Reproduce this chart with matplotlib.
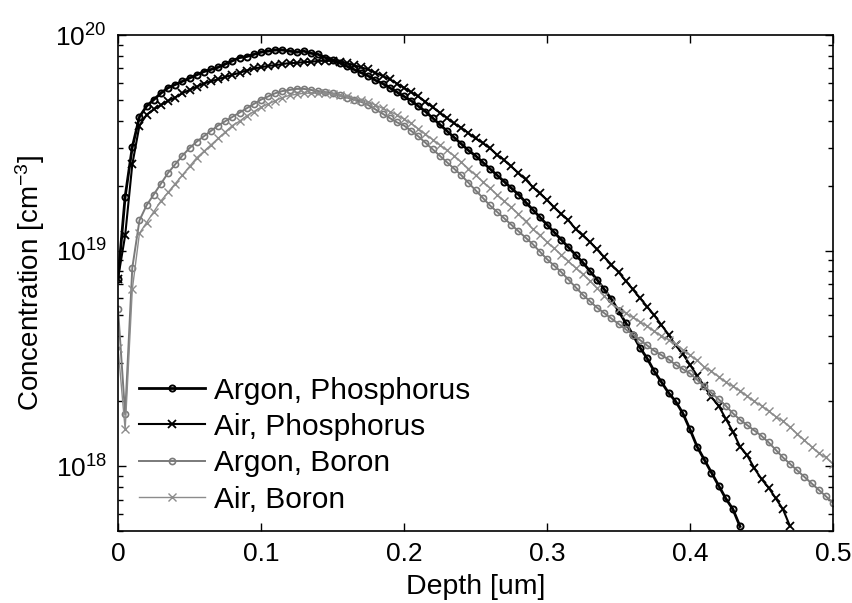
import numpy as np
import matplotlib
matplotlib.use("Agg")
import matplotlib.pyplot as plt

plt.rcParams['font.family'] = ['Liberation Sans', 'DejaVu Sans']
plt.rcParams['mathtext.fontset'] = 'custom'
plt.rcParams['mathtext.rm'] = 'Liberation Sans'
plt.rcParams['mathtext.it'] = 'Liberation Sans:italic'

# depth grid (um), one sample every 0.005 um
step = 0.005

# log10 of concentration [cm^-3]
argon_p = [18.87, 19.25, 19.48, 19.62, 19.67, 19.70, 19.73, 19.755, 19.77, 19.785,
           19.80, 19.815, 19.83, 19.84, 19.85, 19.865, 19.88, 19.895, 19.90, 19.91,
           19.92, 19.925, 19.93, 19.93, 19.925, 19.92, 19.925, 19.915, 19.91, 19.895,
           19.885, 19.87, 19.855, 19.84, 19.825, 19.81, 19.79, 19.775, 19.755, 19.735,
           19.715, 19.695, 19.67, 19.645, 19.615, 19.585, 19.555, 19.525, 19.495, 19.465,
           19.44, 19.41, 19.38, 19.35, 19.32, 19.29, 19.26, 19.225, 19.19, 19.155,
           19.12, 19.085, 19.05, 19.015, 18.98, 18.945, 18.905, 18.865, 18.82, 18.775,
           18.72, 18.665, 18.61, 18.55, 18.50, 18.44, 18.39, 18.34, 18.30, 18.245,
           18.17, 18.09, 18.03, 17.97, 17.91, 17.85, 17.80, 17.72]

air_p = [18.87, 19.07, 19.40, 19.58, 19.63, 19.655, 19.675, 19.695, 19.71, 19.73,
         19.745, 19.76, 19.775, 19.785, 19.795, 19.805, 19.815, 19.825, 19.835, 19.845,
         19.85, 19.857, 19.86, 19.865, 19.87, 19.87, 19.875, 19.875, 19.88, 19.88,
         19.88, 19.875, 19.87, 19.86, 19.85, 19.84, 19.825, 19.81, 19.795, 19.775,
         19.755, 19.735, 19.715, 19.69, 19.665, 19.64, 19.615, 19.59, 19.57, 19.545,
         19.52, 19.50, 19.475, 19.445, 19.42, 19.39, 19.36, 19.33, 19.295, 19.265,
         19.235, 19.20, 19.17, 19.14, 19.10, 19.07, 19.04, 19.005, 18.97, 18.935,
         18.90, 18.86, 18.82, 18.78, 18.74, 18.70, 18.655, 18.61, 18.56, 18.52,
         18.47, 18.42, 18.37, 18.32, 18.28, 18.22, 18.16, 18.09, 18.05, 17.99,
         17.94, 17.90, 17.85, 17.80, 17.72]

argon_b = [18.73, 18.24, 18.92, 19.14, 19.21, 19.26, 19.31, 19.36, 19.40, 19.44,
           19.475, 19.505, 19.53, 19.555, 19.58, 19.60, 19.62, 19.64, 19.66, 19.68,
           19.70, 19.715, 19.73, 19.74, 19.745, 19.75, 19.75, 19.745, 19.74, 19.735,
           19.73, 19.72, 19.71, 19.70, 19.69, 19.675, 19.655, 19.635, 19.615, 19.595,
           19.58, 19.555, 19.53, 19.50, 19.47, 19.44, 19.41, 19.38, 19.35, 19.315,
           19.28, 19.245, 19.21, 19.18, 19.15, 19.12, 19.09, 19.06, 19.03, 18.995,
           18.96, 18.93, 18.90, 18.865, 18.83, 18.795, 18.765, 18.735, 18.71, 18.685,
           18.66, 18.635, 18.61, 18.585, 18.56, 18.535, 18.515, 18.495, 18.47, 18.45,
           18.43, 18.40, 18.37, 18.34, 18.31, 18.28, 18.245, 18.215, 18.19, 18.165,
           18.14, 18.11, 18.075, 18.04, 18.01, 17.98, 17.95, 17.92, 17.89, 17.86,
           17.83]

air_b = [18.55, 18.17, 18.82, 19.08, 19.13, 19.18, 19.23, 19.27, 19.31, 19.35,
         19.39, 19.43, 19.46, 19.49, 19.52, 19.55, 19.58, 19.60, 19.625, 19.645,
         19.665, 19.68, 19.695, 19.71, 19.72, 19.725, 19.73, 19.73, 19.73, 19.73,
         19.725, 19.72, 19.715, 19.705, 19.70, 19.69, 19.675, 19.66, 19.645, 19.63,
         19.61, 19.59, 19.565, 19.54, 19.515, 19.49, 19.465, 19.44, 19.41, 19.38,
         19.35, 19.32, 19.29, 19.26, 19.23, 19.20, 19.17, 19.135, 19.10, 19.07,
         19.04, 19.01, 18.98, 18.95, 18.92, 18.89, 18.86, 18.825, 18.79, 18.755,
         18.73, 18.71, 18.69, 18.67, 18.65, 18.625, 18.605, 18.585, 18.565, 18.54,
         18.515, 18.49, 18.46, 18.44, 18.415, 18.39, 18.37, 18.35, 18.325, 18.30,
         18.28, 18.255, 18.23, 18.21, 18.18, 18.15, 18.12, 18.09, 18.06, 18.04,
         18.01]

labels = ['Argon, Phosphorus', 'Air, Phosphorus', 'Argon, Boron', 'Air, Boron']
xticks = [0, 0.1, 0.2, 0.3, 0.4, 0.5]
xticklabels = ['0', '0.1', '0.2', '0.3', '0.4', '0.5']

fig = plt.figure(figsize=(8.52, 6.03), dpi=100)
ax = fig.add_axes([118 / 852, 1 - 531 / 603, 715 / 852, 496 / 603])


def depth(vals):
    return np.arange(len(vals)) * step


ax.plot(depth(argon_p), 10 ** np.array(argon_p), color='black', lw=2.0,
        marker='o', ms=4.4, mfc='none', mew=1.4, label=labels[0])
ax.plot(depth(air_p), 10 ** np.array(air_p), color='black', lw=1.5,
        marker='x', ms=5.5, mew=1.3, label=labels[1])
ax.plot(depth(argon_b), 10 ** np.array(argon_b), color='#7a7a7a', lw=1.4,
        marker='o', ms=4.4, mfc='none', mew=1.2, label=labels[2])
ax.plot(depth(air_b), 10 ** np.array(air_b), color='#8c8c8c', lw=1.0,
        marker='x', ms=5.5, mew=1.0, label=labels[3])

ax.set_yscale('log')
ax.set_xlim(0, 0.5)
ax.set_ylim(5e17, 1e20)
ax.set_xticks(xticks)
ax.set_xticklabels(xticklabels)
ax.tick_params(which='both', direction='in', top=True, right=True, labelsize=19, pad=8)
ax.tick_params(which='major', length=6, width=1)
ax.tick_params(which='minor', length=3.5, width=1)
for s in ax.spines.values():
    s.set_linewidth(1.2)

ax.set_xlabel('Depth [um]', fontsize=20.5, labelpad=6)
ax.set_ylabel('Concentration [cm$^{-3}$]', fontsize=20, labelpad=6)

ax.legend(loc='lower left', bbox_to_anchor=(0.03, 0.035), frameon=False,
          fontsize=21.5, handlelength=2.2, handletextpad=0.3, labelspacing=0.28,
          borderaxespad=0, borderpad=0)

fig.savefig('out.png', dpi=100)
